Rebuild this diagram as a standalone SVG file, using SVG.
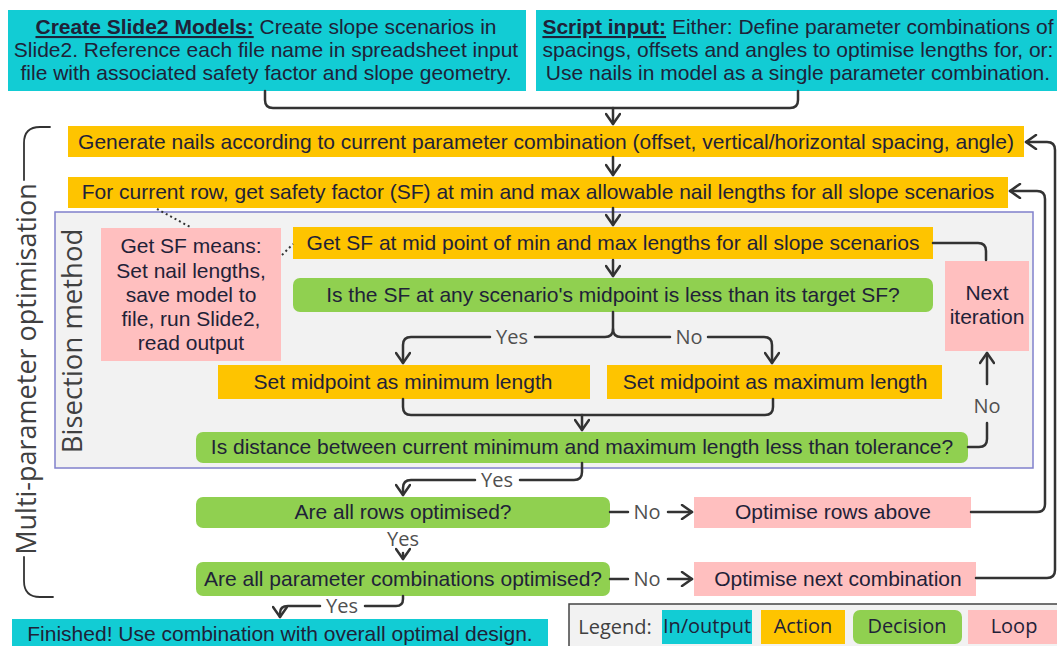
<svg xmlns="http://www.w3.org/2000/svg" width="1057" height="646" viewBox="0 0 1057 646">
<defs>
<style>
.t{font-family:"Liberation Sans",Arial,sans-serif;font-size:21px;fill:#1f2238;text-anchor:middle}
.l{font-family:"Open Sans","Noto Sans",sans-serif;font-size:20px;fill:#505050;text-anchor:middle}
.lg{font-family:"Open Sans","Noto Sans",sans-serif;font-size:20px;fill:#1f2238;text-anchor:middle}
.rot{font-family:"Open Sans","Noto Sans",sans-serif;fill:#404040;text-anchor:middle}
.io{fill:#12ccd4}
.act{fill:#fec400}
.dec{fill:#90d050}
.loop{fill:#ffbfbf}
.c{fill:none;stroke:#333;stroke-width:2.5;stroke-linecap:round;stroke-linejoin:round}
.br{fill:none;stroke:#333;stroke-width:1.8;stroke-linecap:round}
.dot{fill:none;stroke:#333;stroke-width:2;stroke-dasharray:2 3}
</style>
<marker id="ah" viewBox="0 0 14 16" refX="12" refY="8" markerWidth="14" markerHeight="16" markerUnits="userSpaceOnUse" orient="auto">
<path d="M2,1 L12,8 L2,15" fill="none" stroke="#333" stroke-width="2.5" stroke-linecap="round" stroke-linejoin="round"/>
</marker>
</defs>
<rect width="1057" height="646" fill="#fff"/>

<g id="frame-multi">
<path d="M50,127 H40 Q24,127 24,143 V180" class="br"/>
<path d="M24,557 V581 Q24,597 40,597 H53" class="br"/>
<text transform="translate(36,369) rotate(-90)" class="rot" style="font-size:27px">Multi-parameter optimisation</text>
</g>

<g id="frame-bisection">
<rect x="55" y="212" width="978" height="256" fill="#f2f2f2" stroke="#8080cc" stroke-width="1.5"/>
<text transform="translate(82,341) rotate(-90)" class="rot" style="font-size:27.5px">Bisection method</text>
</g>

<g id="n-create">
<rect x="8" y="10" width="518" height="81" class="io"/>
<text class="t" x="266" y="34"><tspan font-weight="bold" text-decoration="underline">Create Slide2 Models:</tspan> Create slope scenarios in</text>
<text class="t" x="266" y="57">Slide2. Reference each file name in spreadsheet input</text>
<text class="t" x="266" y="80">file with associated safety factor and slope geometry.</text>
</g>

<g id="n-script">
<rect x="536" y="10" width="525" height="81" class="io"/>
<text class="t" x="798" y="34"><tspan font-weight="bold" text-decoration="underline">Script input:</tspan> Either: Define parameter combinations of</text>
<text class="t" x="798" y="57">spacings, offsets and angles to optimise lengths for, or:</text>
<text class="t" x="798" y="80">Use nails in model as a single parameter combination.</text>
</g>

<g id="n-generate">
<rect x="68" y="126" width="956" height="31" class="act"/>
<text class="t" x="546" y="149">Generate nails according to current parameter combination (offset, vertical/horizontal spacing, angle)</text>
</g>

<g id="n-forrow">
<rect x="68" y="177" width="940" height="31" class="act"/>
<text class="t" x="538" y="199">For current row, get safety factor (SF) at min and max allowable nail lengths for all slope scenarios</text>
</g>

<g id="n-getsf-note">
<rect x="101" y="228" width="180" height="133" class="loop"/>
<text class="t" x="191" y="253">Get SF means:</text>
<text class="t" x="191" y="278">Set nail lengths,</text>
<text class="t" x="191" y="302">save model to</text>
<text class="t" x="191" y="326">file, run Slide2,</text>
<text class="t" x="191" y="350">read output</text>
</g>

<g id="n-getsfmid">
<rect x="293" y="227" width="640" height="32" class="act"/>
<text class="t" x="613" y="250">Get SF at mid point of min and max lengths for all slope scenarios</text>
</g>

<g id="n-issf">
<rect x="293" y="278" width="640" height="34" rx="7" class="dec"/>
<text class="t" x="613" y="302">Is the SF at any scenario's midpoint is less than its target SF?</text>
</g>

<g id="n-setmin">
<rect x="218" y="365" width="372" height="34" class="act"/>
<text class="t" x="403" y="389">Set midpoint as minimum length</text>
</g>

<g id="n-setmax">
<rect x="607" y="365" width="335" height="34" class="act"/>
<text class="t" x="775" y="389">Set midpoint as maximum length</text>
</g>

<g id="n-next">
<rect x="945" y="261" width="84" height="90" class="loop"/>
<text class="t" x="987" y="300">Next</text>
<text class="t" x="987" y="324">iteration</text>
</g>

<g id="n-isdist">
<rect x="196" y="432" width="772" height="31" rx="7" class="dec"/>
<text class="t" x="582" y="454">Is distance between current minimum and maximum length less than tolerance?</text>
</g>

<g id="n-rows">
<rect x="196" y="497" width="414" height="31" rx="7" class="dec"/>
<text class="t" x="403" y="519">Are all rows optimised?</text>
</g>

<g id="n-rowsabove">
<rect x="694" y="497" width="277" height="31" class="loop"/>
<text class="t" x="833" y="519">Optimise rows above</text>
</g>

<g id="n-combos">
<rect x="196" y="562" width="414" height="34" rx="7" class="dec"/>
<text class="t" x="403" y="586">Are all parameter combinations optimised?</text>
</g>

<g id="n-nextcombo">
<rect x="694" y="562" width="282" height="34" class="loop"/>
<text class="t" x="838" y="586">Optimise next combination</text>
</g>

<g id="n-finished">
<rect x="12" y="619" width="536" height="30" class="io"/>
<text class="t" x="280" y="641">Finished! Use combination with overall optimal design.</text>
</g>

<g id="connectors">
<path class="c" d="M265,91 V100 Q265,108 273,108 H790 Q798,108 798,100 V91"/>
<path class="c" d="M613,108 V124" marker-end="url(#ah)"/>
<path class="c" d="M613,157 V175" marker-end="url(#ah)"/>
<path class="c" d="M613,208 V225" marker-end="url(#ah)"/>
<path class="c" d="M613,260 V276" marker-end="url(#ah)"/>
<path class="c" d="M613,312 V329 Q613,337 605,337 H535"/>
<path class="c" d="M490,337 H411 Q403,337 403,345 V363" marker-end="url(#ah)"/>
<path class="c" d="M613,329 Q613,337 621,337 H670"/>
<path class="c" d="M708,337 H764 Q772,337 772,345 V363" marker-end="url(#ah)"/>
<path class="c" d="M403,399 V407 Q403,415 411,415 H765 Q773,415 773,407 V399"/>
<path class="c" d="M582,415 V430" marker-end="url(#ah)"/>
<path class="c" d="M933,243 H978 Q986,243 986,251 V260"/>
<path class="c" d="M968,447 H979 Q987,447 987,439 V423"/>
<path class="c" d="M987,384 V353" marker-end="url(#ah)"/>
<path class="c" d="M582,463 V472 Q582,480 574,480 H520"/>
<path class="c" d="M475,480 H411 Q403,480 403,488 V495" marker-end="url(#ah)"/>
<path class="c" d="M610,512 H628"/>
<path class="c" d="M668,512 H692" marker-end="url(#ah)"/>
<path class="c" d="M403,553 V559" marker-end="url(#ah)"/>
<path class="c" d="M610,579 H628"/>
<path class="c" d="M668,579 H692" marker-end="url(#ah)"/>
<path class="c" d="M403,596 V599 Q403,606 396,606 H365"/>
<path class="c" d="M320,606 H288 Q280,606 280,613 V617" marker-end="url(#ah)"/>
<path class="c" d="M971,512 H1037 Q1045,512 1045,504 V199 Q1045,191 1037,191 H1010" marker-end="url(#ah)"/>
<path class="c" d="M976,578 H1047 Q1055,578 1055,570 V150 Q1055,142 1047,142 H1026" marker-end="url(#ah)"/>
<path class="dot" d="M157,209 L192,228"/>
<path class="dot" d="M282,255 L293,244"/>
<text class="l" x="512" y="344">Yes</text>
<text class="l" x="689" y="344">No</text>
<text class="l" x="987" y="413">No</text>
<text class="l" x="497" y="487">Yes</text>
<text class="l" x="647" y="519">No</text>
<text class="l" x="403" y="546">Yes</text>
<text class="l" x="647" y="586">No</text>
<text class="l" x="342" y="613">Yes</text>
</g>

<g id="legend">
<rect x="569" y="604" width="495" height="50" fill="#f2f2f2" stroke="#444" stroke-width="1.5"/>
<text class="l" x="615" y="634" style="fill:#404040">Legend:</text>
<rect x="662" y="610" width="90" height="34" class="io"/>
<text class="lg" x="707" y="633">In/output</text>
<rect x="761" y="610" width="84" height="34" class="act"/>
<text class="lg" x="803" y="633">Action</text>
<rect x="853" y="610" width="109" height="34" rx="7" class="dec"/>
<text class="lg" x="907" y="633">Decision</text>
<rect x="968" y="610" width="95" height="34" class="loop"/>
<text class="lg" x="1014" y="633">Loop</text>
</g>
</svg>
